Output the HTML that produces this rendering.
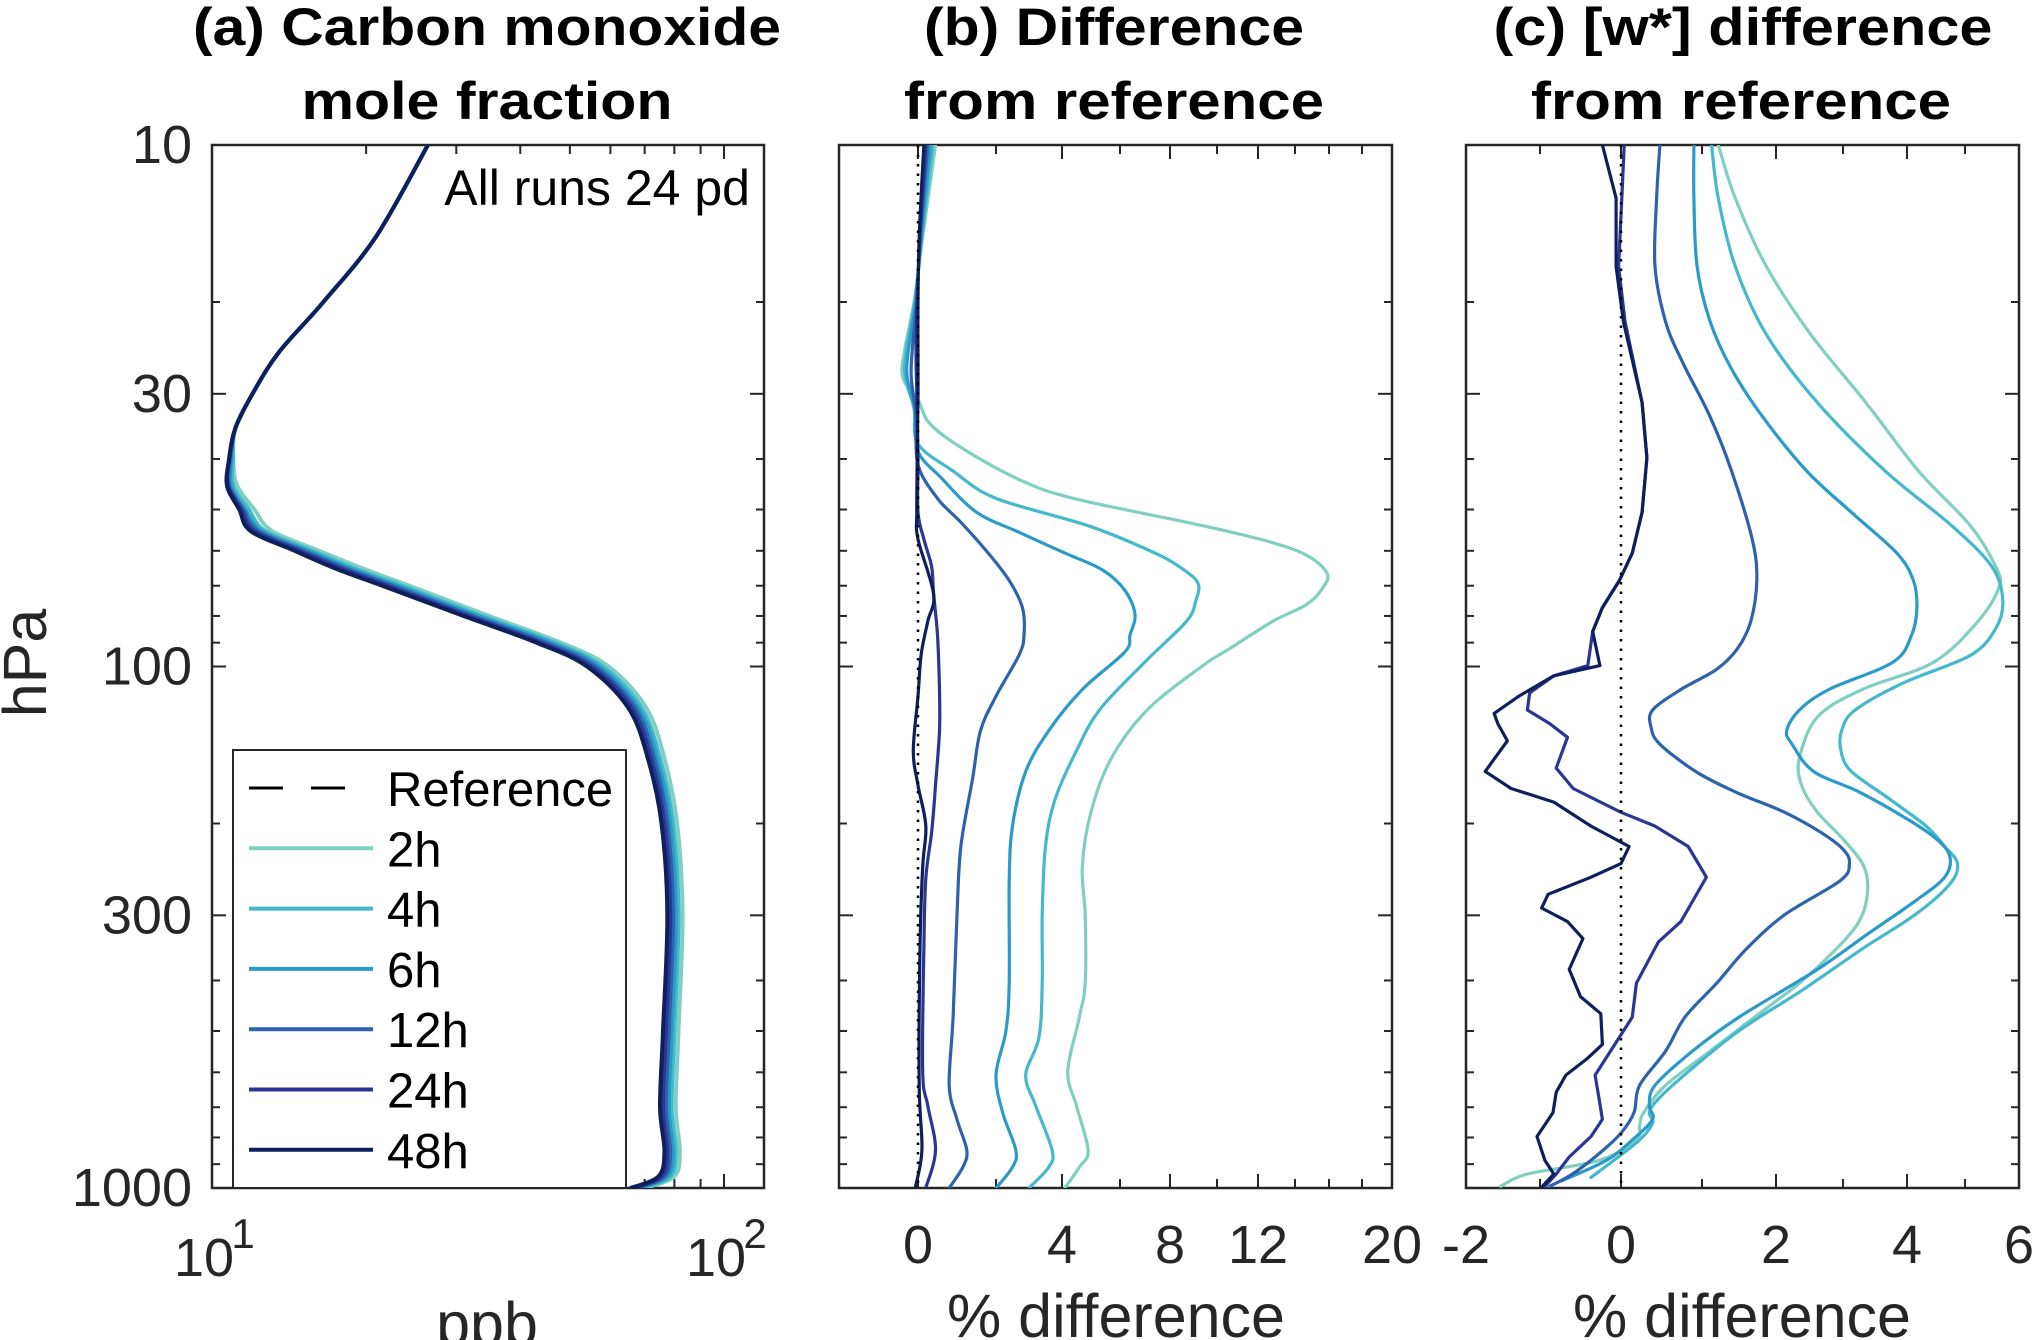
<!DOCTYPE html>
<html><head><meta charset="utf-8">
<style>
html,body{margin:0;padding:0;background:#fff;}
svg{display:block;}
text{font-family:"Liberation Sans",Arial,sans-serif;fill:#262626;}
</style></head>
<body>
<svg id="fig" width="2033" height="1340" viewBox="0 0 2033 1340" xmlns="http://www.w3.org/2000/svg">
<g id="titles" font-weight="bold" text-anchor="middle" font-size="53">
  <text x="487" y="45" textLength="588" lengthAdjust="spacingAndGlyphs" style="fill:#000">(a) Carbon monoxide</text>
  <text x="487" y="119" textLength="371" lengthAdjust="spacingAndGlyphs" style="fill:#000">mole fraction</text>
  <text x="1114" y="45" textLength="380" lengthAdjust="spacingAndGlyphs" style="fill:#000">(b) Difference</text>
  <text x="1114" y="119" textLength="420" lengthAdjust="spacingAndGlyphs" style="fill:#000">from reference</text>
  <text x="1743" y="45" textLength="499" lengthAdjust="spacingAndGlyphs" style="fill:#000">(c) [w*] difference</text>
  <text x="1741" y="119" textLength="420" lengthAdjust="spacingAndGlyphs" style="fill:#000">from reference</text>
</g>
<g id="plots"></g>
</svg>
<script>
// ---------- data ----------
const seriesNames = ['2h','4h','6h','12h','24h','48h'];
const seriesColors = ['#7fd0c0','#44b8cc','#2a9ac8','#2d62ad','#2b3593','#0f1f5c'];

// Panel (a): CO mole fraction (ppb) vs pressure (hPa)
const pA = [10,15,20,25,30,35,40,45,50,55,60,65,70,80,90,100,120,150,200,300,500,700,850,950,1000];
const coA_2h  = [26.4,20.9,16.5,13.5,12.0,11.1,11.0,11.2,12.1,13.1,16.2,19.8,24.3,34.8,48,59.5,70.5,76.5,81,83,81.5,80.5,82,80,70];
const coA_4h  = [26.4,20.9,16.5,13.5,12.0,11.1,11.0,11.0,11.8,12.7,15.7,19.1,23.5,33.7,46.7,58,69,75,79.5,81.5,80,79,80.5,78.5,69];
const coA_6h  = [26.4,20.9,16.5,13.5,12.0,11.1,10.9,10.9,11.6,12.5,15.4,18.7,23,33,45.8,57,68,74,78.5,80.5,79,78,79.5,77.5,68.2];
const coA_12h = [26.4,20.9,16.5,13.5,12.0,11.1,10.85,10.8,11.5,12.3,15.1,18.3,22.5,32.3,44.8,56,67,73,77.5,79.5,78,77,78.5,76.5,67.3];
const coA_24h = [26.4,20.9,16.5,13.5,12.0,11.1,10.8,10.75,11.4,12.1,14.8,17.9,22,31.6,43.8,55,66,72,76.5,78.5,77,76,77.5,75.5,66.5];
const coA_48h = [26.4,20.9,16.5,13.5,12.0,11.1,10.8,10.7,11.3,11.9,14.5,17.5,21.5,31,43,54,65,71,75.5,77.5,76,75,76.5,74.5,65.7];

// Panel (b): % difference from reference
const pB_2h = [10,15,20,25,28,30.8,34.2,38,43.8,47.6,53.7,57.9,61.5,66.4,70.9,76,81.9,92.5,99.6,121,150,190,242,299,404,470,598,696,846,912,1000];
const dB_2h = [0.45,0.12,-0.1,-0.35,-0.38,0,0.3,1.1,2.7,4.4,9.4,12.8,14.8,15.9,15.6,14.7,12.8,10.6,9.4,7.1,5.7,5.0,4.7,4.8,4.8,4.6,4.2,4.5,4.9,4.6,4.1];
const pB_4h = [10,15,20,25,28,32,37.4,42.2,47.6,53.7,60.6,65.3,69.4,74.8,81.9,98,121,145,179,221,299,404,515,607,695,846,912,1000];
const dB_4h = [0.38,0.1,-0.08,-0.3,-0.32,-0.1,0,0.9,2.0,4.9,7.4,8.6,9.2,9.1,8.7,7.0,5.3,4.5,3.8,3.5,3.4,3.4,3.3,2.9,3.2,3.7,3.6,3.0];
const pB_6h = [10,15,20,25,28,32,38.6,43.5,50.6,55.3,60.6,65.3,71.5,79.5,87,93.7,110.7,132.7,159,202,257,404,500,607,716,846,912,1000];
const dB_6h = [0.32,0.08,-0.06,-0.25,-0.27,-0.08,0,0.6,1.5,2.7,4.1,5.4,6.2,6.6,6.4,6.2,4.7,3.6,2.9,2.5,2.4,2.4,2.3,2.0,2.2,2.6,2.5,2.0];
const pB_12h = [10,15,20,25,28,33,41,47.6,52.9,60.6,68.4,77.1,87,95,114,133,164,221,299,470,636,739,846,912,1000];
const dB_12h = [0.25,0.06,-0.04,-0.15,-0.17,-0.05,0,0.5,1.1,1.8,2.4,2.8,2.85,2.7,2.0,1.6,1.4,1.1,1.0,0.9,0.8,1.0,1.25,1.15,0.8];
const pB_24h = [10,15,20,25,30,40,50.6,57,64.3,72.6,87,110.7,133,169,208,255,346,598,695,846,1000];
const dB_24h = [0.2,0.05,-0.02,-0.05,-0.03,0,0,0.15,0.35,0.4,0.5,0.55,0.55,0.45,0.35,0.2,0.15,0.12,0.25,0.45,0.2];
const pB_48h = [10,15,20,25,30,40,50.6,57,72.6,81.9,95,114,145,169,202,242,346,636,846,1000];
const dB_48h = [0.15,0.03,0,0,0,-0.02,-0.03,0,0.4,0.25,0.08,0,-0.12,0,0.2,0.12,0.05,0.03,0.1,-0.07];

// Panel (c): [w*] % difference from reference
const pC_2h = [10,12.65,17.1,23.1,31.2,42.2,53.7,64.4,70.5,81.9,98.1,110.7,124.9,149.7,168.8,190.4,214.8,242.3,273.4,308.4,347.9,404.6,470.3,546.7,635.5,716.9,761.4,808.7,885.3,940.1,992.6];
const dC_2h = [1.22,1.45,1.87,2.52,3.36,4.2,5.1,5.57,5.63,5.24,4.46,3.3,2.62,2.35,2.38,2.62,3.01,3.33,3.38,3.25,2.9,2.35,1.71,1.11,0.55,0.28,0.23,0.19,-0.27,-1.17,-1.53];
const pC_4h = [10,12.65,17.1,23.1,31.2,42.2,53.7,64.4,74.8,84.5,95.2,107.4,121.2,132.7,145.2,158.9,179.3,202.3,221.4,238.7,261.3,299.2,347.9,416.9,499.5,598.4,675,716.9,750,808.7,885.3,954.4];
const dC_4h = [1.13,1.22,1.45,1.87,2.62,3.66,4.77,5.5,5.7,5.57,5.1,3.95,3.19,2.98,2.97,3.13,3.72,4.33,4.65,4.87,4.74,4.14,3.3,2.4,1.5,0.83,0.46,0.35,0.39,0.23,-0.09,-0.37];
const pC_6h = [10,12.65,17.1,21.8,26.9,33.2,42.2,50.6,60.6,68.4,77.1,87,98.1,110.7,121.2,132.7,140.9,158.9,174,196.3,214.8,231.6,253.5,281.8,327.5,380.9,470.3,546.7,635.5,695.6,738.7,808.7,885.3,968.9];
const dC_6h = [0.9,0.9,0.94,1.11,1.4,1.82,2.46,3.13,3.84,4.11,4.17,4.08,3.78,2.79,2.35,2.16,2.24,2.56,3.25,4.01,4.52,4.74,4.65,4.14,3.36,2.62,1.5,0.88,0.42,0.35,0.39,0.14,-0.18,-0.73];
const pC_12h = [10,12.65,17.1,21.8,26.1,33.2,42.2,57.1,68.4,81.9,92.4,101.2,110.7,121.2,130.7,140.9,158.9,174,190.4,208.4,224.7,238.7,257.4,299.2,347.9,404.6,470.3,546.7,635.5,716.9,784.6,859,940.1,992.6];
const dC_12h = [0.48,0.44,0.42,0.55,0.76,1.11,1.4,1.68,1.74,1.66,1.48,1.2,0.74,0.39,0.37,0.48,0.92,1.45,2.13,2.68,3.01,3.1,2.96,2.13,1.6,1.2,0.79,0.55,0.23,0.16,0,-0.27,-0.6,-0.88];
const pC_24h = [10,12.65,17.1,21.8,31.2,39.8,50.6,60.6,68.4,77.1,85.7,99.6,104.2,112.4,121.2,128.7,136.7,156.6,171.4,190.4,202.3,221.4,253.5,308.4,337.6,404.6,470.3,607.5,675,738.7,796.6,872,940.1,992.6];
const dC_24h = [0.04,0.01,-0.03,0.05,0.26,0.32,0.26,0.14,-0.02,-0.23,-0.35,-0.41,-0.83,-1.14,-1.17,-0.88,-0.66,-0.8,-0.59,0,0.42,0.83,1.06,0.74,0.46,0.19,0.14,-0.32,-0.27,-0.23,-0.37,-0.64,-0.8,-0.94];
const pC_48h = [10,12.65,17.1,21.8,31.2,39.8,50.6,60.6,68.4,77.1,85.7,99.6,104.2,114.1,123,128.7,138.8,158.9,171.4,182,202.3,221.4,238.7,253.5,273.4,290.4,308.4,332.5,380.9,429.6,463.3,530.5,563.4,607.5,655,716.9,796.6,885.3,940.1,992.6];
const dC_48h = [-0.23,-0.06,-0.06,0.03,0.26,0.32,0.26,0.14,-0.02,-0.23,-0.35,-0.26,-0.83,-1.29,-1.62,-1.57,-1.44,-1.74,-1.39,-0.83,-0.37,0.1,0,-0.37,-0.9,-0.98,-0.66,-0.47,-0.64,-0.5,-0.25,-0.23,-0.41,-0.68,-0.8,-0.84,-1.04,-0.94,-0.83,-0.97];

// tick values
const yTickVals = [10,30,100,300,1000];
const yTickLabels = ['10','30','100','300','1000'];
const yMinorVals = [20,40,50,60,70,80,90,200,400,500,600,700,800,900];
const aMinorVals = [20,30,40,50,60,70,80,90];
const bTickVals = [0,4,8,12,20];
const bTickLabels = ['0','4','8','12','20'];
const bMinorVals = [2,6,10,14,16,18];
const cTickVals = [-2,0,2,4,6];
const cTickLabels = ['-2','0','2','4','6'];
const cMinorVals = [-1,1,3,5];

// ---------- scales ----------
const TOP=145, BOT=1188;
function yP(p){ return TOP + (Math.log10(p)-1)/2*(BOT-TOP); }
const A = {l:212,r:764};
function xA(v){ return A.l + Math.log10(v/10)*512; }
const B = {l:839,r:1392};
const bKnotV=[-2,0,2,4,6,8,10,12,14,16,18,20], bKnotX=[839,918,996,1062,1120,1170,1217,1258,1295,1329,1362,1392];
const C = {l:1466,r:2019};
const cKnotV=[-2,-1,0,1,2,3,4,5,6], cKnotX=[1466,1540,1621,1702,1776,1843,1907,1965,2019];
function interp(v,kv,kx){
  if(v<=kv[0]) return kx[0]+(v-kv[0])*(kx[1]-kx[0])/(kv[1]-kv[0]);
  for(let i=1;i<kv.length;i++){ if(v<=kv[i]) return kx[i-1]+(v-kv[i-1])*(kx[i]-kx[i-1])/(kv[i]-kv[i-1]); }
  const n=kv.length-1; return kx[n]+(v-kv[n])*(kx[n]-kx[n-1])/(kv[n]-kv[n-1]);
}
function xB(v){ return interp(v,bKnotV,bKnotX); }
function xC(v){ return interp(v,cKnotV,cKnotX); }

const NS='http://www.w3.org/2000/svg';
const root=document.getElementById('plots');
function mk(tag,attrs,parent){ const e=document.createElementNS(NS,tag); for(const k in attrs) e.setAttribute(k,attrs[k]); (parent||root).appendChild(e); return e; }

function drawAxes(panel,key,xf,majV,majL,minV,showYLabels){
  const g=mk('g',{});
  
  
  const clip=mk('clipPath',{id:'clip-'+key},g);
  mk('rect',{x:panel.l,y:TOP,width:panel.r-panel.l,height:BOT-TOP},clip);
  yTickVals.forEach((v,i)=>{
    const y=yP(v);
    mk('line',{x1:panel.l,x2:panel.l+14,y1:y,y2:y,stroke:'#262626','stroke-width':2},g);
    mk('line',{x1:panel.r,x2:panel.r-14,y1:y,y2:y,stroke:'#262626','stroke-width':2},g);
    if(showYLabels){
      const t=mk('text',{x:panel.l-20,y:y+18,'text-anchor':'end','font-size':54},g);
      
      
      t.textContent=yTickLabels[i];
    }
  });
  yMinorVals.forEach(v=>{
    const y=yP(v);
    mk('line',{x1:panel.l,x2:panel.l+8,y1:y,y2:y,stroke:'#262626','stroke-width':2},g);
    mk('line',{x1:panel.r,x2:panel.r-8,y1:y,y2:y,stroke:'#262626','stroke-width':2},g);
  });
  majV.forEach((v,i)=>{
    const x=xf(v);
    mk('line',{x1:x,x2:x,y1:BOT,y2:BOT-14,stroke:'#262626','stroke-width':2},g);
    mk('line',{x1:x,x2:x,y1:TOP,y2:TOP+14,stroke:'#262626','stroke-width':2},g);
    if(majL){
      const t=mk('text',{x:x,y:1263,'text-anchor':'middle','font-size':54},g);
      
      
      t.textContent=majL[i];
    }
  });
  minV.forEach(v=>{
    const x=xf(v);
    mk('line',{x1:x,x2:x,y1:BOT,y2:BOT-9,stroke:'#262626','stroke-width':2},g);
    mk('line',{x1:x,x2:x,y1:TOP,y2:TOP+9,stroke:'#262626','stroke-width':2},g);
  });
  const box=mk('rect',{x:panel.l,y:TOP,width:panel.r-panel.l,height:BOT-TOP,fill:'none',stroke:'#262626','stroke-width':2.5},g);
  
  
  return g;
}

function smoothPath(pts){
  let d='M'+pts[0][0].toFixed(1)+','+pts[0][1].toFixed(1);
  for(let i=0;i<pts.length-1;i++){
    const p0=pts[Math.max(0,i-1)],p1=pts[i],p2=pts[i+1],p3=pts[Math.min(pts.length-1,i+2)];
    const c1x=p1[0]+(p2[0]-p0[0])/6, c1y=p1[1]+(p2[1]-p0[1])/6;
    const c2x=p2[0]-(p3[0]-p1[0])/6, c2y=p2[1]-(p3[1]-p1[1])/6;
    d+=' C'+c1x.toFixed(1)+','+c1y.toFixed(1)+' '+c2x.toFixed(1)+','+c2y.toFixed(1)+' '+p2[0].toFixed(1)+','+p2[1].toFixed(1);
  }
  return d;
}

function drawSeries(key,xf,ps,vs,color,name,w,smooth){
  const pts=ps.map((p,i)=>[xf(vs[i]),yP(p)]);
  const d=smooth?smoothPath(pts):'M'+pts.map(q=>q[0].toFixed(1)+','+q[1].toFixed(1)).join(' L');
  const pl=mk('path',{d:d,fill:'none',stroke:color,'stroke-width':w,'stroke-linejoin':'round','stroke-linecap':'round','clip-path':'url(#clip-'+key+')'});
  
  
}

// Panel A
drawAxes(A,'panel-a',xA,[10,100],null,aMinorVals,true);
const aSeries=[coA_2h,coA_4h,coA_6h,coA_12h,coA_24h,coA_48h];
aSeries.forEach((s,i)=>drawSeries('panel-a',xA,pA,s,seriesColors[i],seriesNames[i],4,true));
[[10,'1'],[100,'2']].forEach(([v,e])=>{
  const x=xA(v);
  const t=mk('text',{x:x-8,y:1276,'text-anchor':'middle','font-size':54});
  
  
  t.textContent='10';
  const s=mk('text',{x:x+31,y:1248,'text-anchor':'middle','font-size':42});
  
  
  s.textContent=e;
});
const ann=mk('text',{x:750,y:205,'text-anchor':'end','font-size':50,style:'fill:#000'});


ann.textContent='All runs 24 pd';

// Legend
const leg=mk('g',{});


mk('rect',{x:233,y:750,width:393,height:438,fill:'#fff',stroke:'#262626','stroke-width':2},leg);
const legNames=['Reference'].concat(seriesNames);
const legColors=['#000'].concat(seriesColors);
legNames.forEach((n,i)=>{
  const y=788+i*60.3;
  const e=mk('g',{},leg);
  
  
  const ln=mk('line',{x1:249,x2:373,y1:y,y2:y,stroke:legColors[i],'stroke-width':i===0?3:4},e);
  if(i===0) ln.setAttribute('stroke-dasharray','34,28');
  const t=mk('text',{x:387,y:y+18,'font-size':49,style:'fill:#000'},e);
  t.textContent=n;
});

// Panel B
drawAxes(B,'panel-b',xB,bTickVals,bTickLabels,bMinorVals,false);
const bP=[pB_2h,pB_4h,pB_6h,pB_12h,pB_24h,pB_48h], bD=[dB_2h,dB_4h,dB_6h,dB_12h,dB_24h,dB_48h];
bP.forEach((p,i)=>drawSeries('panel-b',xB,p,bD[i],seriesColors[i],seriesNames[i],3.2,true));
const refB=mk('line',{x1:xB(0),x2:xB(0),y1:TOP,y2:BOT,stroke:'#000','stroke-width':2.5,'stroke-dasharray':'2.5,7'});



// Panel C
drawAxes(C,'panel-c',xC,cTickVals,cTickLabels,cMinorVals,false);
const cP=[pC_2h,pC_4h,pC_6h,pC_12h,pC_24h,pC_48h], cD=[dC_2h,dC_4h,dC_6h,dC_12h,dC_24h,dC_48h];
cP.forEach((p,i)=>drawSeries('panel-c',xC,p,cD[i],seriesColors[i],seriesNames[i],3.2,i<4));
const refC=mk('line',{x1:xC(0),x2:xC(0),y1:TOP,y2:BOT,stroke:'#000','stroke-width':2.5,'stroke-dasharray':'2.5,7'});



// axis labels
function lab(x,y,txt,name,rot){
  const t=mk('text',{x:x,y:y,'text-anchor':'middle','font-size':61});
  if(rot) t.setAttribute('transform','rotate(-90 '+x+' '+y+')');
  
  
  t.textContent=txt;
}
lab(487,1345,'ppb','panel-a-x-axis-title');
lab(1116,1337,'% difference','panel-b-x-axis-title');
lab(1742,1337,'% difference','panel-c-x-axis-title');
lab(46,663,'hPa','y-axis-title',true);
</script>
</body></html>
